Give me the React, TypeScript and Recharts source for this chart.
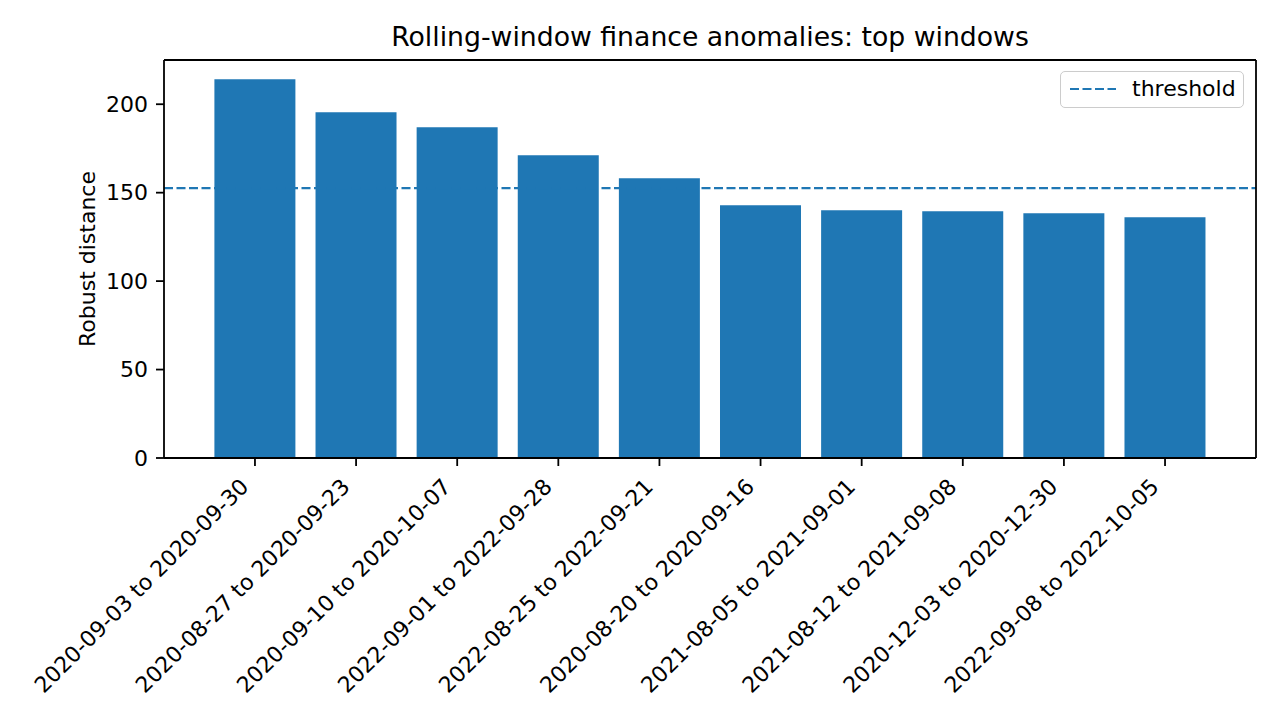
import React from "react";
import {
  BarChart,
  Bar,
  XAxis,
  YAxis,
  ReferenceLine,
  Legend,
} from "recharts";

const windows = [
  "2020-09-03 to 2020-09-30",
  "2020-08-27 to 2020-09-23",
  "2020-09-10 to 2020-10-07",
  "2022-09-01 to 2022-09-28",
  "2022-08-25 to 2022-09-21",
  "2020-08-20 to 2020-09-16",
  "2021-08-05 to 2021-09-01",
  "2021-08-12 to 2021-09-08",
  "2020-12-03 to 2020-12-30",
  "2022-09-08 to 2022-10-05",
];
const distances = [214.1, 195.5, 187.0, 171.2, 158.2, 142.9, 140.1, 139.5, 138.4, 136.1];
const threshold = 152.6;
const yTicks = [0, 50, 100, 150, 200];
const yMax = 225;

const BLUE = "#1f77b4";
const FONT = "'DejaVu Sans', sans-serif";

const data = windows.map((w, i) => ({ window: w, distance: distances[i] }));

function RotatedTick({ x, y, payload }: any) {
  return (
    <g transform={`translate(${x - 5},${y + 20})`}>
      <text textAnchor="end" transform="rotate(-45)" fontSize={22} fill="#000" fontFamily={FONT}>
        {payload.value}
      </text>
    </g>
  );
}

function YLabel({ viewBox }: any) {
  const cy = viewBox.y + viewBox.height / 2;
  return (
    <text
      x={95}
      y={cy}
      transform={`rotate(-90, 95, ${cy})`}
      textAnchor="middle"
      fontSize={22}
      fill="#000"
      fontFamily={FONT}
    >
      Robust distance
    </text>
  );
}

function ThresholdLegend() {
  return (
    <div
      style={{
        boxSizing: "border-box",
        width: 184,
        height: 37,
        border: "1.5px solid #cccccc",
        borderRadius: 5,
        background: "rgba(255,255,255,0.8)",
        position: "relative",
        fontFamily: FONT,
      }}
    >
      <svg width={50} height={10} style={{ position: "absolute", left: 8, top: 12 }}>
        <line x1={1} y1={5} x2={47} y2={5} stroke={BLUE} strokeWidth={2.2} strokeDasharray="9 3.5" />
      </svg>
      <span style={{ position: "absolute", left: 71, top: 6, fontSize: 22, lineHeight: 1, color: "#000" }}>
        threshold
      </span>
    </div>
  );
}

export default function App() {
  return (
    <div style={{ position: "relative", width: 1280, height: 720, background: "#fff", fontFamily: FONT }}>
      <style>{`body{margin:0}`}</style>
      <div
        style={{
          position: "absolute",
          left: 164,
          width: 1092,
          top: 24,
          textAlign: "center",
          fontSize: 26.7,
          lineHeight: 1,
          color: "#000",
        }}
      >
        Rolling-window finance anomalies: top windows
      </div>
      <BarChart
        width={1280}
        height={720}
        data={data}
        margin={{ top: 60, right: 23, bottom: 0, left: 0 }}
      >
        <XAxis
          dataKey="window"
          height={262}
          interval={0}
          padding={{ left: 40.4, right: 40.4 }}
          tick={<RotatedTick />}
          tickSize={8}
          tickLine={{ stroke: "#000", strokeWidth: 1.8 }}
          axisLine={{ stroke: "#000", strokeWidth: 1.8 }}
        />
        <YAxis
          width={164}
          domain={[0, yMax]}
          ticks={yTicks}
          tickSize={8}
          tickMargin={8}
          tick={{ fontSize: 22, fill: "#000", fontFamily: FONT }}
          tickLine={{ stroke: "#000", strokeWidth: 1.8 }}
          axisLine={{ stroke: "#000", strokeWidth: 1.8 }}
          label={<YLabel />}
        />
        {/* right-hand frame line */}
        <YAxis
          yAxisId="frame"
          orientation="right"
          width={1}
          domain={[0, yMax]}
          tick={false}
          tickLine={false}
          axisLine={{ stroke: "#000", strokeWidth: 1.8 }}
        />
        <Bar dataKey="distance" fill={BLUE} barSize={81} isAnimationActive={false} />
        <ReferenceLine
          y={threshold}
          stroke={BLUE}
          strokeWidth={2.2}
          strokeDasharray="9 3.5"
        />
        <ReferenceLine y={yMax} stroke="#000" strokeWidth={1.8} />
        <Legend
          layout="horizontal"
          verticalAlign="middle"
          align="center"
          content={<ThresholdLegend />}
          wrapperStyle={{ position: "absolute", top: 71, left: 1060, width: 184, height: 37 }}
        />
      </BarChart>
    </div>
  );
}
